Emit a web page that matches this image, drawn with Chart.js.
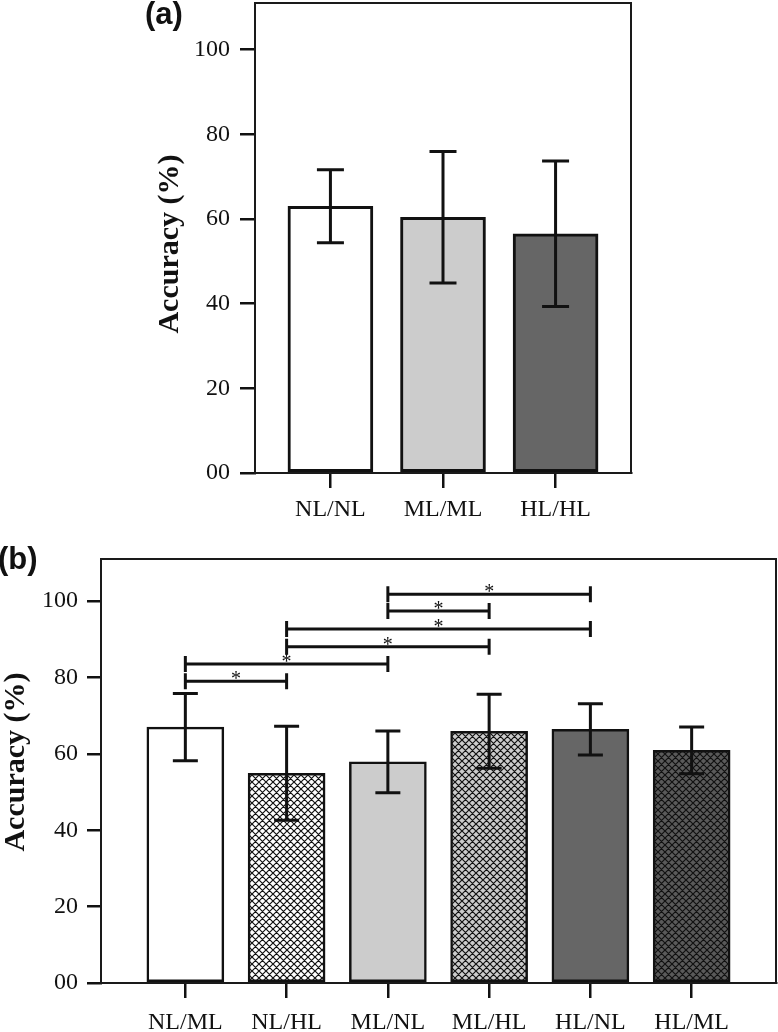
<!DOCTYPE html>
<html>
<head>
<meta charset="utf-8">
<script src="https://cdn.jsdelivr.net/npm/chart.js@4.4.0/dist/chart.umd.min.js"></script>
<style>
  body { margin: 0; background: #fff; width: 778px; height: 1032px; position: relative; overflow: hidden; }
  canvas { position: absolute; left: 0; }
  #chartA { top: 0; }
  #chartB { top: 530px; }
  .panel { position: absolute; font: bold 31px "Liberation Sans", Arial, sans-serif; line-height: 1; color: #111; }
</style>
</head>
<body>
<canvas id="chartA" width="778" height="530"></canvas>
<canvas id="chartB" width="778" height="502"></canvas>
<div class="panel" style="left:145px;top:-2px">(a)</div>
<div class="panel" style="left:-2px;top:543px">(b)</div>
<script>
const catsA = ['NL/NL', 'ML/ML', 'HL/HL']
const meanA = [63.0, 60.4, 56.5]
const sdA = [8.6, 15.5, 17.2]

const catsB = ['NL/ML', 'NL/HL', 'ML/NL', 'ML/HL', 'HL/NL', 'HL/ML']
const meanB = [67.0, 54.9, 57.9, 65.9, 66.4, 60.9]
const sdB = [8.8, 12.3, 8.1, 9.7, 6.7, 6.1]

const yTicks = [0, 20, 40, 60, 80, 100]

// significant pairs in panel b: [from bar, to bar, bracket height in %]
const sigPairs = [[0, 1, 79.0], [0, 2, 83.5], [1, 3, 88.0], [1, 4, 92.7], [2, 3, 97.4], [2, 4, 101.8]]

const serif = 'Liberation Serif'
const ink = '#111'

const hatch = (ctx, base) => {
  const s = 7
  const c = document.createElement('canvas')
  c.width = s
  c.height = s
  const g = c.getContext('2d')
  g.fillStyle = base
  g.fillRect(0, 0, s, s)
  g.strokeStyle = ink
  g.lineWidth = 1.2
  g.beginPath()
  for (const o of [-s, 0, s]) {
    g.moveTo(o, 0); g.lineTo(o + s, s)
    g.moveTo(o, s); g.lineTo(o + s, 0)
  }
  g.stroke()
  return ctx.createPattern(c, 'repeat')
}

// no extra room for overhanging tick labels, the frame is placed by hand
const noPad = s => {
  s.paddingTop = 0
  s.paddingBottom = 0
  s.paddingLeft = 0
  s.paddingRight = 0
}

const frame = {
  id: 'frame',
  afterDraw (chart, args, opts) {
    const { ctx, chartArea: a } = chart
    ctx.save()
    ctx.strokeStyle = '#1a1a1a'
    ctx.lineWidth = 2
    ctx.strokeRect(a.left, a.top, a.right - a.left, a.bottom - a.top)
    // y axis title, placed by hand
    ctx.translate(opts.titleX, opts.titleY)
    ctx.rotate(-Math.PI / 2)
    ctx.fillStyle = ink
    ctx.font = `bold 30px "${serif}"`
    ctx.textAlign = 'center'
    ctx.textBaseline = 'middle'
    ctx.fillText('Accuracy (%)', 0, 0)
    ctx.restore()
  },
}

const errorBars = {
  id: 'errorBars',
  afterDatasetsDraw (chart, args, opts) {
    const { ctx, scales: { y } } = chart
    const ds = chart.data.datasets[0]
    const bars = chart.getDatasetMeta(0).data
    ctx.save()
    ctx.strokeStyle = ink
    ctx.lineWidth = 3
    bars.forEach((bar, i) => {
      const m = ds.data[i].y
      const e = ds.errors[i]
      const top = y.getPixelForValue(m + e)
      const bot = y.getPixelForValue(m - e)
      const half = opts.cap / 2
      ctx.beginPath()
      ctx.moveTo(bar.x, top); ctx.lineTo(bar.x, bot)
      ctx.moveTo(bar.x - half, top); ctx.lineTo(bar.x + half, top)
      ctx.moveTo(bar.x - half, bot); ctx.lineTo(bar.x + half, bot)
      ctx.stroke()
    })
    ctx.restore()
  },
}

const sigMarks = {
  id: 'sigMarks',
  afterDatasetsDraw (chart) {
    const { ctx, scales: { x, y } } = chart
    ctx.save()
    ctx.strokeStyle = ink
    ctx.fillStyle = ink
    ctx.lineWidth = 3
    ctx.font = `20px "${serif}"`
    ctx.textAlign = 'center'
    ctx.textBaseline = 'alphabetic'
    for (const [a, b, h] of sigPairs) {
      const x1 = x.getPixelForValue(a)
      const x2 = x.getPixelForValue(b)
      const yy = y.getPixelForValue(h)
      ctx.beginPath()
      ctx.moveTo(x1, yy); ctx.lineTo(x2, yy)
      ctx.moveTo(x1, yy - 8); ctx.lineTo(x1, yy + 8)
      ctx.moveTo(x2, yy - 8); ctx.lineTo(x2, yy + 8)
      ctx.stroke()
      ctx.fillText('*', (x1 + x2) / 2, yy + 4)
    }
    ctx.restore()
  },
}

const makeChart = (id, cats, means, errs, colors, lay) => new Chart(document.getElementById(id), {
  type: 'bar',
  data: {
    datasets: [{
      data: means.map((v, i) => ({ x: i, y: v })),
      errors: errs,
      backgroundColor: colors,
      borderColor: ink,
      borderWidth: lay.border,
      borderSkipped: false,
      barThickness: lay.barWidth,
    }],
  },
  options: {
    responsive: false,
    animation: false,
    devicePixelRatio: 1,
    layout: { padding: lay.padding },
    plugins: {
      legend: { display: false },
      tooltip: { enabled: false },
      errorBars: { cap: lay.cap },
      frame: { titleX: lay.titleX, titleY: lay.titleY },
    },
    scales: {
      x: {
        type: 'linear',
        offset: false,
        min: lay.xmin,
        max: lay.xmax,
        afterBuildTicks: s => { s.ticks = cats.map((c, i) => ({ value: i })) },
        afterFit: s => { s.height = lay.xHeight; noPad(s) },
        ticks: { callback: v => cats[v], font: { family: serif, size: 24 }, color: ink, padding: lay.xPad, maxRotation: 0, autoSkip: false },
        grid: { offset: false, drawOnChartArea: false, drawTicks: true, tickLength: 15, color: ink, lineWidth: 2.5 },
        border: { display: true, color: '#1a1a1a', width: 2 },
      },
      y: {
        min: 0,
        max: 111,
        afterBuildTicks: s => { s.ticks = yTicks.map(v => ({ value: v })) },
        afterFit: s => { s.width = lay.yWidth; noPad(s) },
        ticks: { callback: v => (v === 0 ? '00' : v), font: { family: serif, size: 24 }, color: ink, padding: lay.yPad },
        grid: { drawOnChartArea: false, drawTicks: true, tickLength: lay.tickLen, color: ink, lineWidth: 2.5 },
        border: { display: true, color: '#1a1a1a', width: 2 },
      },
    },
  },
  plugins: [frame, errorBars].concat(lay.extra || []),
})

makeChart('chartA', catsA, meanA, sdA, ['#ffffff', '#cccccc', '#666666'], {
  padding: { left: 0, top: 3, right: 147, bottom: 0 },
  yWidth: 255, xHeight: 57, tickLen: 15, yPad: 10, xPad: 7,
  titleX: 170, titleY: 244,
  xmin: -0.67, xmax: 2.67, barWidth: 85, border: 3, cap: 27,
})

const ctxB = document.getElementById('chartB').getContext('2d')
makeChart('chartB', catsB, meanB, sdB,
  ['#ffffff', hatch(ctxB, '#ffffff'), '#cccccc', hatch(ctxB, '#cccccc'), '#666666', hatch(ctxB, '#5a5a5a')], {
    padding: { left: 0, top: 29, right: 2, bottom: 0 },
    yWidth: 101, xHeight: 49, tickLen: 14, yPad: 9, xPad: 10,
    titleX: 16, titleY: 232,
    xmin: -0.833, xmax: 5.833, barWidth: 77, border: 2.5, cap: 25,
    extra: [sigMarks],
  })
</script>
</body>
</html>
